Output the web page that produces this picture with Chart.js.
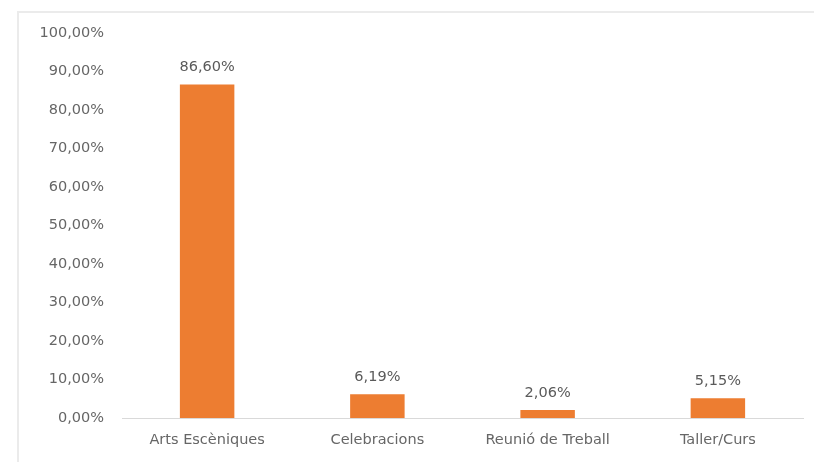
<!DOCTYPE html>
<html><head><meta charset="utf-8">
<script src="https://cdn.jsdelivr.net/npm/chart.js@4"></script>
<style>
html,body{margin:0;padding:0;background:#fff;}
#frame{position:absolute;left:17px;top:11px;width:797px;height:451px;border-left:2px solid #ebebeb;border-top:2px solid #ebebeb;box-sizing:border-box;}
#wrap{position:absolute;left:0;top:0;width:814px;height:462px;}
</style></head><body>
<div id="frame"></div>
<div id="wrap"><canvas id="c" width="814" height="462"></canvas></div>
<script>
const categories = ["Arts Escèniques", "Celebracions", "Reunió de Treball", "Taller/Curs"];
const values = [86.60, 6.19, 2.06, 5.15];
const yTicks = [0,10,20,30,40,50,60,70,80,90,100];

const fmt = v => v.toFixed(2).replace('.', ',') + '%';
const FONT = "'DejaVu Sans', sans-serif";

const labelPlugin = {
  id: 'barLabels',
  afterDatasetsDraw(chart) {
    const ctx = chart.ctx;
    const meta = chart.getDatasetMeta(0);
    ctx.save();
    ctx.font = "14.5px " + FONT;
    ctx.fillStyle = '#5a5a5a';
    ctx.textAlign = 'center';
    ctx.textBaseline = 'middle';
    meta.data.forEach((bar, i) => {
      ctx.fillText(fmt(values[i]), bar.x, bar.y - 17);
    });
    ctx.restore();
  }
};

new Chart(document.getElementById('c'), {
  type: 'bar',
  data: {
    labels: categories,
    datasets: [{
      data: values,
      backgroundColor: '#ED7D31',
      borderWidth: 0,
      categoryPercentage: 1,
      barPercentage: 0.32
    }]
  },
  options: {
    responsive: false,
    animation: false,
    layout: { padding: { left: 0, right: 11, top: 33, bottom: 0 } },
    plugins: { legend: { display: false }, tooltip: { enabled: false } },
    scales: {
      x: {
        afterFit(scale) { scale.height = 44; },
        grid: { display: false, drawTicks: false },
        border: { display: true, color: '#d9d9d9', width: 1 },
        ticks: { color: '#666666', font: { family: FONT, size: 14.5 }, padding: 14 }
      },
      y: {
        min: 0, max: 100,
        afterFit(scale) { scale.width = 122; },
        afterBuildTicks(scale) { scale.ticks = yTicks.map(v => ({ value: v })); },
        grid: { display: false, drawTicks: false },
        border: { display: false },
        ticks: {
          color: '#666666',
          font: { family: FONT, size: 14.5 },
          padding: 18,
          callback: v => fmt(v)
        }
      }
    }
  },
  plugins: [labelPlugin]
});
</script>
</body></html>
